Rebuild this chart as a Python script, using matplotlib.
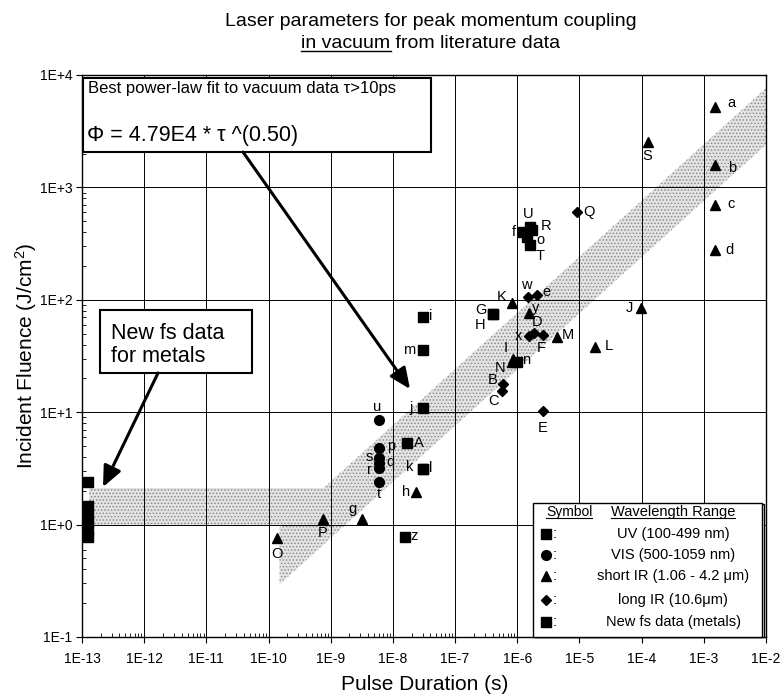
import numpy as np
import matplotlib.pyplot as plt
from matplotlib.patches import Rectangle, FancyArrowPatch
from matplotlib.lines import Line2D
from matplotlib.ticker import FixedLocator, LogLocator, NullFormatter

plt.rcParams['font.family'] = ['Liberation Sans', 'DejaVu Sans']
plt.rcParams['mathtext.fontset'] = 'custom'
plt.rcParams['mathtext.rm'] = 'Liberation Sans'
plt.rcParams['mathtext.it'] = 'Liberation Sans:italic'
plt.rcParams['hatch.color'] = '#8a8a8a'
plt.rcParams['hatch.linewidth'] = 0.7

W, H = 781, 700

# UV (100-499 nm) -> squares
uv_lab = ['U', 'R', 'o', 'T', 'f', 'G', 'H', 'n', 'i', 'm', 'j', 'A', 'l', 'k', 'z']
uv_tau = [1.58e-6, 1.7e-6, 1.45e-6, 1.58e-6, 1.23e-6, 4.1e-7, 4.1e-7, 1.0e-6,
          3.0e-8, 3.0e-8, 3.0e-8, 1.7e-8, 3.0e-8, 3.0e-8, 1.55e-8]
uv_phi = [446, 420, 363, 309, 404, 74, 74, 28, 71, 35.5, 10.8, 5.3, 3.1, 3.1, 0.78]

# VIS (500-1059 nm) -> circles
vis_lab = ['u', 'p', 's', 'q', 'r', 't']
vis_tau = [6.0e-9, 6.0e-9, 6.0e-9, 6.0e-9, 6.0e-9, 6.0e-9]
vis_phi = [8.6, 4.8, 3.9, 3.55, 3.2, 2.4]

# short IR (1.06 - 4.2 um) -> triangles
sir_lab = ['a', 'S', 'b', 'c', 'd', 'J', 'K', 'y', 'M', 'L', 'I', 'N', 'h', 'g', 'P', 'O']
sir_tau = [1.5e-3, 1.26e-4, 1.5e-3, 1.5e-3, 1.5e-3, 9.8e-5, 8.1e-7, 1.55e-6, 4.4e-6,
           1.8e-5, 8.5e-7, 8.1e-7, 2.35e-8, 3.2e-9, 7.4e-10, 1.36e-10]
sir_phi = [5200, 2540, 1590, 700, 280, 85, 94, 77, 47, 38, 30, 28, 1.94, 1.12, 1.12, 0.76]

# long IR (10.6 um) -> diamonds
lir_lab = ['Q', 'w', 'e', 'D', 'x', 'F', 'B', 'C', 'E']
lir_tau = [9.1e-6, 1.48e-6, 2.1e-6, 1.86e-6, 1.55e-6, 2.6e-6, 5.9e-7, 5.7e-7, 2.6e-6]
lir_phi = [605, 105, 110, 51, 48, 49, 17.7, 15.3, 10.2]

# new fs data (metals)
fs_tau = [1.25e-13] * 6
fs_phi = [2.4, 1.46, 1.25, 1.05, 0.89, 0.77]

# power-law fit
fit_a, fit_b = 4.79e4, 0.50

xtick_vals = [1e-13, 1e-12, 1e-11, 1e-10, 1e-9, 1e-8, 1e-7, 1e-6, 1e-5, 1e-4, 1e-3, 1e-2]
xtick_labels = ['1E-13', '1E-12', '1E-11', '1E-10', '1E-9', '1E-8', '1E-7',
                '1E-6', '1E-5', '1E-4', '1E-3', '1E-2']
ytick_vals = [1e-1, 1e0, 1e1, 1e2, 1e3, 1e4]
ytick_labels = ['1E-1', '1E+0', '1E+1', '1E+2', '1E+3', '1E+4']

legend_rows = ['UV (100-499 nm)', 'VIS (500-1059 nm)', 'short IR (1.06 - 4.2 \u03bcm)',
               'long IR (10.6\u03bcm)', 'New fs data (metals)']

# label offsets in pixels (right, up)
offs = {
    'U': (-1, 13), 'R': (14, 4), 'o': (13, -3), 'T': (10, -11), 'f': (-9, 0), 'G': (-12, 4),
    'H': (-13, -11), 'n': (9, 2), 'i': (8, 1), 'm': (-13, 0), 'j': (-12, 0), 'A': (12, 0),
    'l': (8, 1), 'k': (-13, 2), 'z': (9, 1),
    'u': (-2, 13), 'p': (12, 2), 's': (-10, 1), 'q': (11, 1), 'r': (-10, -2), 't': (0, -12),
    'a': (17, 4), 'S': (-1, -14), 'b': (17, -3), 'c': (16, 1), 'd': (15, 0), 'J': (-12, 0),
    'K': (-10, 6), 'y': (7, 5), 'M': (11, 2), 'L': (13, 1), 'I': (-7, 11), 'N': (-12, -6),
    'h': (-10, 0), 'g': (-10, 10), 'P': (0, -14), 'O': (0, -16),
    'Q': (12, 0), 'w': (-2, 12), 'e': (9, 3), 'D': (3, 11), 'x': (-11, 0), 'F': (-2, -13),
    'B': (-10, 4), 'C': (-9, -10), 'E': (0, -17),
}


def fp(px, py):
    return px / W, 1 - py / H


fig = plt.figure(figsize=(W / 100, H / 100), dpi=100)
ax = fig.add_axes([82 / W, 1 - 637 / H, (766 - 82) / W, (637 - 75) / H])
ax.set_xscale('log')
ax.set_yscale('log')
ax.set_xlim(1e-13, 1e-2)
ax.set_ylim(1e-1, 1e4)

# shaded bands
tb = np.logspace(np.log10(1.5e-10), -2, 200)
fit = fit_a * tb ** fit_b
ax.fill_between(tb, fit * 0.5, fit * 1.6, facecolor='#e4e4e4', edgecolor='#8a8a8a',
                hatch='.....', lw=0, zorder=1)
ax.fill_between([1.3e-13, 1.6e-9], [1.0, 1.0], [2.1, 2.1], facecolor='#e4e4e4',
                edgecolor='#8a8a8a', hatch='.....', lw=0, zorder=1)

ax.grid(True, which='major', color='black', lw=0.7, zorder=1.5)
ax.set_axisbelow(False)
ax.xaxis.set_major_locator(FixedLocator(xtick_vals))
ax.set_xticklabels(xtick_labels, fontsize=10)
ax.yaxis.set_major_locator(FixedLocator(ytick_vals))
ax.set_yticklabels(ytick_labels, fontsize=10)
ax.xaxis.set_minor_locator(LogLocator(base=10, subs=np.arange(2, 10), numticks=30))
ax.yaxis.set_minor_locator(LogLocator(base=10, subs=np.arange(2, 10), numticks=30))
ax.xaxis.set_minor_formatter(NullFormatter())
ax.yaxis.set_minor_formatter(NullFormatter())
ax.tick_params(which='major', direction='out', length=4, width=0.8, pad=3)
ax.tick_params(axis='x', which='major', pad=7)
ax.tick_params(which='minor', direction='in', length=3, width=0.6)
for s in ax.spines.values():
    s.set_linewidth(1.0)

mk = dict(color='black', ls='none', zorder=3, clip_on=False)
ax.plot(uv_tau, uv_phi, marker='s', ms=7, **mk)
ax.plot(vis_tau, vis_phi, marker='o', ms=7, **mk)
ax.plot(sir_tau, sir_phi, marker='^', ms=7.5, **mk)
ax.plot(lir_tau, lir_phi, marker='D', ms=5.5, **mk)
ax.plot(fs_tau, fs_phi, marker='s', ms=7.5, **mk)

for labs, taus, phis in [(uv_lab, uv_tau, uv_phi), (vis_lab, vis_tau, vis_phi),
                         (sir_lab, sir_tau, sir_phi), (lir_lab, lir_tau, lir_phi)]:
    for lab, t, p in zip(labs, taus, phis):
        ax.annotate(lab, (t, p), xytext=offs[lab], textcoords='offset pixels',
                    ha='center', va='center', fontsize=10.5, zorder=4)

ft = fig.transFigure
# fit box
ax.add_patch(Rectangle(fp(83, 152), 348 / W, 74 / H, transform=ft, fc='white',
                       ec='black', lw=1.5, zorder=5, clip_on=False))
ax.text(*fp(88, 89), 'Best power-law fit to vacuum data \u03c4>10ps', transform=ft,
        fontsize=12, va='center', ha='left', zorder=6)
ax.text(*fp(87, 136), '\u03a6 = 4.79E4 * \u03c4 ^(0.50)', transform=ft,
        fontsize=15.5, va='center', ha='left', zorder=6)
ax.add_patch(FancyArrowPatch(fp(243, 152), fp(410, 389), transform=ft,
                             arrowstyle='-|>,head_length=0.9,head_width=0.4',
                             mutation_scale=14, lw=2.2, color='black', zorder=5,
                             clip_on=False, shrinkA=0, shrinkB=0))

# fs box
ax.add_patch(Rectangle(fp(100, 373), 152 / W, 63 / H, transform=ft, fc='white',
                       ec='black', lw=1.5, zorder=5, clip_on=False))
ax.text(*fp(111, 333), 'New fs data', transform=ft, fontsize=15.5, va='center',
        ha='left', zorder=6)
ax.text(*fp(111, 357), 'for metals', transform=ft, fontsize=15.5, va='center',
        ha='left', zorder=6)
ax.add_patch(FancyArrowPatch(fp(158, 373), fp(103, 487), transform=ft,
                             arrowstyle='-|>,head_length=0.9,head_width=0.4',
                             mutation_scale=14, lw=2.2, color='black', zorder=5,
                             clip_on=False, shrinkA=0, shrinkB=0))

# legend box (double right edge)
ax.add_patch(Rectangle(fp(535, 637), 229 / W, 133 / H, transform=ft, fc='white',
                       ec='black', lw=1, zorder=5, clip_on=False))
ax.add_patch(Rectangle(fp(533, 637), 229 / W, 134 / H, transform=ft, fc='white',
                       ec='black', lw=1, zorder=5.1, clip_on=False))
hdr1 = ax.text(*fp(546, 512), 'Symbol', transform=ft, fontsize=10, va='center',
               ha='left', zorder=6)
hdr2 = ax.text(*fp(673, 512), 'Wavelength Range', transform=ft, fontsize=10.5,
               va='center', ha='center', zorder=6)
row_y = [534, 555, 576, 600, 622]
row_mk = ['s', 'o', '^', 'D', 's']
row_ms = [7, 7, 7.5, 5.5, 7.5]
for yy, m, ms, txt in zip(row_y, row_mk, row_ms, legend_rows):
    ax.add_line(Line2D([fp(546, yy)[0]], [fp(546, yy)[1]], transform=ft, marker=m,
                       ms=ms, color='black', ls='none', zorder=6, clip_on=False))
    ax.text(*fp(553, yy), ':', transform=ft, fontsize=11, va='center', ha='left',
            zorder=6)
    ax.text(*fp(673, yy), txt, transform=ft, fontsize=10.5, va='center', ha='center',
            zorder=6)

# title
fig.text(*fp(431, 22), 'Laser parameters for peak momentum coupling', fontsize=14,
         ha='center', va='center')
t2 = fig.text(*fp(431, 43), 'in vacuum from literature data', fontsize=14,
              ha='center', va='center')

fig.text(*fp(26, 356), 'Incident Fluence (J/cm$^2$)', fontsize=15, rotation=90,
         ha='center', va='center')
fig.text(*fp(425, 684), 'Pulse Duration (s)', fontsize=15, ha='center', va='center')

# underlines
fig.canvas.draw()
r = fig.canvas.get_renderer()


def underline(t, sub, lw=1.0):
    bb = t.get_window_extent(r)
    tmp = fig.text(0, 0, sub, fontsize=t.get_fontsize())
    w = tmp.get_window_extent(r).width
    tmp.remove()
    y = bb.y0 + 1
    fig.add_artist(Line2D([bb.x0 / W, (bb.x0 + w) / W], [y / H, y / H],
                          color='black', lw=lw))


underline(t2, 'in vacuum')


def underline_ax(t, lw=0.8):
    bb = t.get_window_extent(r)
    ax.add_line(Line2D([bb.x0 / W, bb.x1 / W], [(bb.y0 + 1) / H] * 2, transform=ft,
                       color='black', lw=lw, zorder=6, clip_on=False))


underline_ax(hdr1)
underline_ax(hdr2)

fig.savefig('out.png', dpi=100)
